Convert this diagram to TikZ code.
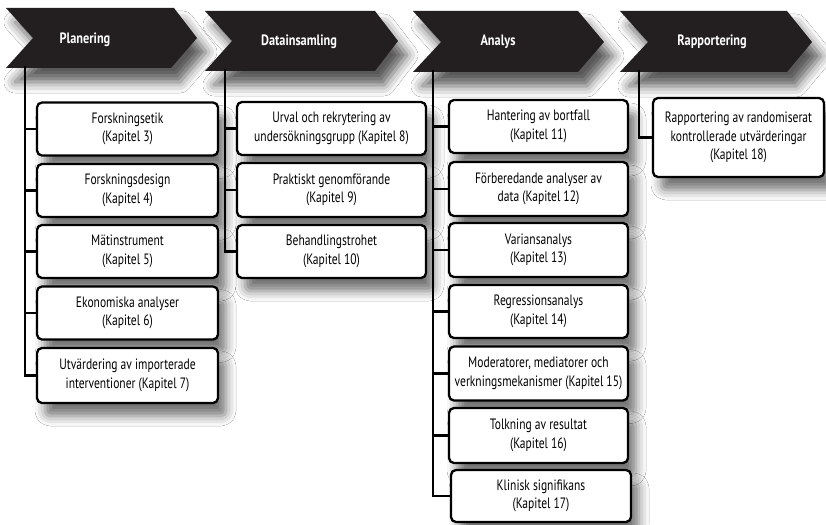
\documentclass[tikz,border=0pt]{standalone}
\usepackage{fontspec}
\setmainfont{PT Sans}[FakeStretch=0.77]
\newfontfamily\ttlfont{PT Sans}[FakeStretch=0.82]
\usetikzlibrary{shadows.blur}
\definecolor{chevc}{HTML}{231F20}
\begin{document}
\begin{tikzpicture}[x=1pt,y=-1pt,
  shad/.style={blur shadow={shadow xshift=8pt, shadow yshift=-13pt, shadow blur radius=10pt, shadow opacity=55}},
  box/.style={draw=black, line width=2.3pt, rounded corners=5pt, fill=white, align=center,
    inner sep=0pt, font=\fontsize{15}{18.5}\selectfont, shad},
  chev/.style={fill=chevc, blur shadow={shadow xshift=9pt, shadow yshift=-14pt, shadow blur radius=11pt, shadow opacity=65}},
  ttl/.style={text=white, font=\ttlfont\bfseries\fontsize{15}{17}\selectfont, inner sep=0pt},
  conn/.style={line width=2.8pt, black}]
\useasboundingbox[fill=white] (0,0) rectangle (826,524);

% chevrons
\path[chev] (6,8) -- (174,8) -- (197,38) -- (171,68) -- (6,68) -- (33,38) -- cycle;
\path[chev] (205,11) -- (375,11) -- (398,41) -- (375,71) -- (205,71) -- (232,41) -- cycle;
\path[chev] (413,11) -- (578,11) -- (604,42) -- (578,72) -- (413,72) -- (441,42) -- cycle;
\path[chev] (620,11) -- (787,11) -- (812,42) -- (787,72) -- (620,72) -- (648,42) -- cycle;
\node[ttl] (pl) at (85,40) {Planering};
\node[ttl] (da) at (299,42) {Datainsamling};
\node[ttl] (an) at (498,42) {Analys};
\node[ttl] (ra) at (712,42) {Rapportering};

% line start coordinates
\coordinate (plx) at (25,66);
\coordinate (dax) at (225,69);
\coordinate (anx) at (433,70);
\coordinate (rax) at (639,70);

% Planering boxes
\node[box, minimum width=181pt, minimum height=53pt] (p1) at (127.5,129) {Forskningsetik\\(Kapitel 3)};
\node[box, minimum width=181pt, minimum height=53pt] (p2) at (127.5,190.5) {Forskningsdesign\\(Kapitel 4)};
\node[box, minimum width=181pt, minimum height=53pt] (p3) at (127.5,251.5) {Mätinstrument\\(Kapitel 5)};
\node[box, minimum width=181pt, minimum height=53pt] (p4) at (127.5,313) {Ekonomiska analyser\\(Kapitel 6)};
\node[box, minimum width=181pt, minimum height=55pt] (p5) at (127.5,375.5) {Utvärdering av importerade\\interventioner (Kapitel 7)};

% Datainsamling boxes
\node[box, minimum width=189pt, minimum height=53pt] (d1) at (331.5,128.5) {Urval och rekrytering av\\undersökningsgrupp (Kapitel 8)};
\node[box, minimum width=189pt, minimum height=54pt] (d2) at (331.5,190) {Praktiskt genomförande\\(Kapitel 9)};
\node[box, minimum width=189pt, minimum height=53pt] (d3) at (331.5,251.5) {Behandlingstrohet\\(Kapitel 10)};

% Analys boxes
\node[box, minimum width=179pt, minimum height=53pt] (a1) at (538.5,126.5) {Hantering av bortfall\\(Kapitel 11)};
\node[box, minimum width=179pt, minimum height=54pt] (a2) at (538.5,189) {Förberedande analyser av\\data (Kapitel 12)};
\node[box, minimum width=179pt, minimum height=54pt] (a3) at (538.5,250) {Variansanalys\\(Kapitel 13)};
\node[box, minimum width=179pt, minimum height=53pt] (a4) at (538.5,311.5) {Regressionsanalys\\(Kapitel 14)};
\node[box, minimum width=179pt, minimum height=54pt] (a5) at (538.5,373.5) {Moderatorer, mediatorer och\\verkningsmekanismer (Kapitel 15)};
\node[box, minimum width=179pt, minimum height=55pt] (a6) at (538.5,435.5) {Tolkning av resultat\\(Kapitel 16)};
\node[box, minimum width=180pt, minimum height=52pt] (a7) at (541,496) {Klinisk signifikans\\(Kapitel 17)};

% Rapportering box
\node[box, minimum width=171pt, minimum height=79pt] (r1) at (738.5,137.5) {Rapportering av randomiserat\\kontrollerade utvärderingar\\(Kapitel 18)};

% connectors
\draw[conn] (plx) -- (plx |- p5.west) -- (p5.west);
\foreach \b in {p1,p2,p3,p4} \draw[conn] (\b.west -| plx) -- (\b.west);
\draw[conn] (dax) -- (dax |- d3.west) -- (d3.west);
\foreach \b in {d1,d2} \draw[conn] (\b.west -| dax) -- (\b.west);
\draw[conn] (anx) -- (anx |- a7.west) -- (a7.west);
\foreach \b in {a1,a2,a3,a4,a5,a6} \draw[conn] (\b.west -| anx) -- (\b.west);
\draw[conn] (rax) -- (rax |- r1.west) -- (r1.west);
\end{tikzpicture}
\end{document}
